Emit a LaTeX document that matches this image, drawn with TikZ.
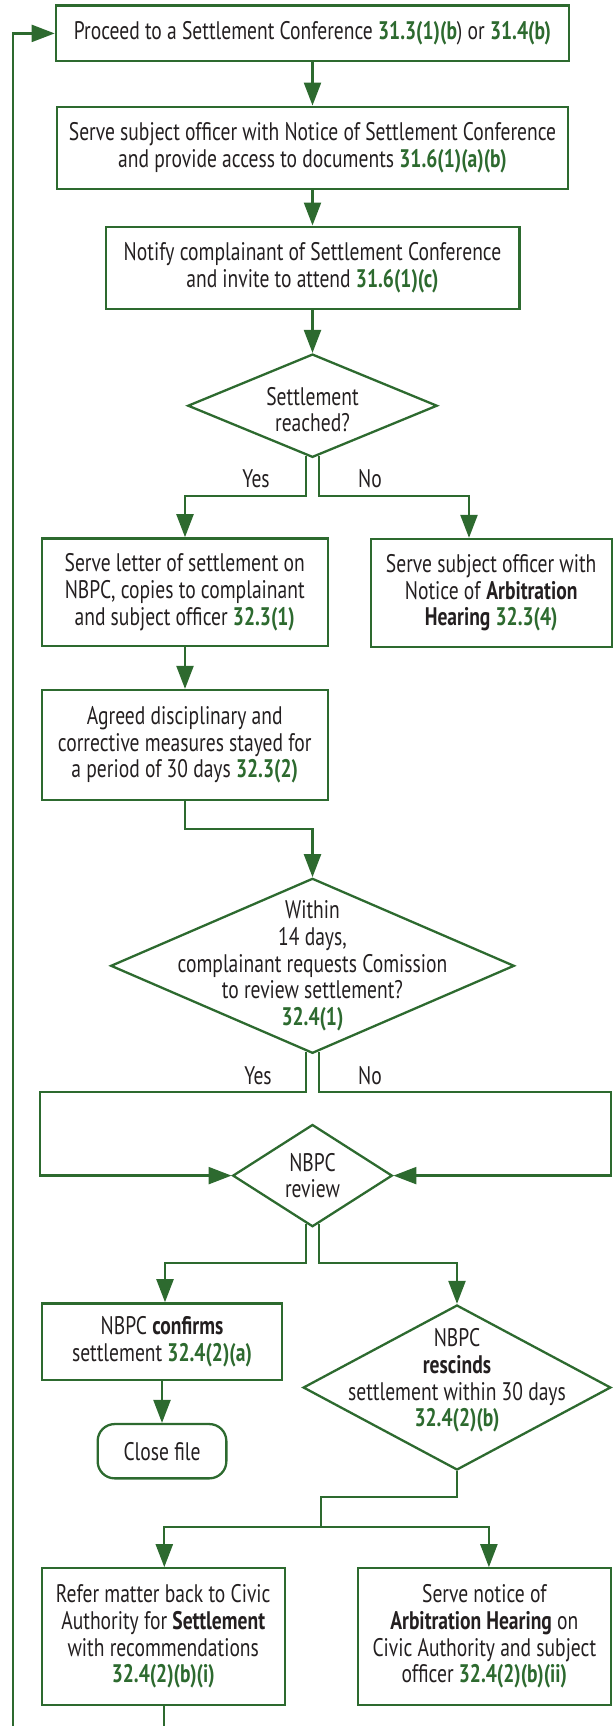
\documentclass[tikz,border=0pt]{standalone}
\usepackage{fontspec}
\setmainfont{PT Sans}[FakeStretch=0.77]
\usetikzlibrary{shapes.geometric,arrows.meta,calc}
\definecolor{G}{RGB}{45,106,47}
\definecolor{T}{RGB}{35,31,32}
\newcommand\fsz{\fontsize{12.7pt}{13.35pt}\selectfont}
\newcommand\rf[1]{\textbf{\textcolor{G}{#1}}}
\tikzset{
  base/.style={draw=G, line width=1.15pt, text=T, font=\fsz, align=center, inner sep=0pt},
  box/.style={base, rectangle},
  dia/.style={base, diamond},
  dtxt/.style={font=\fsz, text=T, align=center, inner sep=0pt},
  ln/.style={draw=G, line width=1.15pt},
  arr/.style={draw=G, line width=1.15pt, -{Triangle[length=11.5pt,width=8.5pt]}},
  yn/.style={font=\fsz, text=T, inner sep=0pt},
}
\begin{document}
\begin{tikzpicture}[x=0.5pt,y=-0.5pt]
\useasboundingbox (0,0) rectangle (613,1726);
% nodes
\node[box, minimum width=256.7pt, minimum height=27.9pt] (b1) at (312.5,33.4)
  {Proceed to a Settlement Conference \rf{31.3(1)(b}) or \rf{31.4(b)}};
\node[box, minimum width=255.2pt, minimum height=41.3pt] (b2) at (312.5,148)
  {Serve subject officer with Notice of Settlement Conference\\and provide access to documents \rf{31.6(1)(a)(b)}};
\node[box, minimum width=206.85pt, minimum height=41.15pt] (b3) at (312.5,267.8)
  {Notify complainant of Settlement Conference\\and invite to attend \rf{31.6(1)(c)}};
\node[dia, minimum width=124.75pt, minimum height=51.65pt,
  label={[dtxt, yshift=-2pt]center:{Settlement\\reached?}}] (d1) at (312.5,405.7) {};
\node[box, minimum width=142.95pt, minimum height=53.85pt] (b4) at (184.75,592.2)
  {Serve letter of settlement on\\NBPC, copies to complainant\\and subject officer \rf{32.3(1)}};
\node[box, minimum width=120.5pt, minimum height=54pt] (b5) at (491.2,593)
  {Serve subject officer with\\Notice of \textbf{Arbitration}\\\textbf{Hearing} \rf{32.3(4)}};
\node[box, minimum width=142.95pt, minimum height=55pt] (b6) at (184.75,745)
  {Agreed disciplinary and\\corrective measures stayed for\\a period of 30 days \rf{32.3(2)}};
\node[dia, minimum width=201.8pt, minimum height=87.5pt,
  label={[dtxt]center:{Within\\14 days,\\complainant requests Comission\\to review settlement?\\\rf{32.4(1)}}}] (d2) at (312.5,965.8) {};
\node[dia, minimum width=79.8pt, minimum height=51.1pt,
  label={[dtxt]center:{NBPC\\review}}] (rv) at (312.5,1175.6) {};
\node[box, minimum width=120.3pt, minimum height=38.35pt] (b7) at (162,1341.7)
  {NBPC \textbf{confirms}\\settlement \rf{32.4(2)(a)}};
\node[box, rounded corners=8.5pt, minimum width=64.35pt, minimum height=27.15pt] (cf) at (162,1451.2)
  {Close file};
\node[dia, minimum width=153.85pt, minimum height=82.5pt,
  label={[dtxt, yshift=3.5pt]center:{NBPC\\\textbf{rescinds}\\settlement within 30 days\\\rf{32.4(2)(b)}}}] (d4) at (457,1387.5) {};
\node[box, minimum width=121.45pt, minimum height=68.35pt] (b8) at (163.25,1636.65)
  {Refer matter back to Civic\\Authority for \textbf{Settlement}\\with recommendations\\\rf{32.4(2)(b)(i)}};
\node[box, minimum width=126.55pt, minimum height=68.35pt] (b9) at (484.35,1636.65)
  {Serve notice of\\\textbf{Arbitration Hearing} on\\Civic Authority and subject\\officer \rf{32.4(2)(b)(ii)}};
% labels
\node[yn] (y1) at (256,479) {Yes};
\node[yn] (n1) at (370,479) {No};
\node[yn] (y2) at (258,1075.7) {Yes};
\node[yn] (n2) at (370,1075.7) {No};
% coordinates
\coordinate (c5) at (469,0);
\coordinate (c4) at (185,0);
\coordinate (h1) at (0,495.7);
\coordinate (h2) at (0,829);
\coordinate (h3) at (0,1091.7);
\coordinate (xl) at (40.3,0);
\coordinate (xr) at (610.9,0);
\coordinate (h4) at (0,1262.7);
\coordinate (c7) at (165,0);
\coordinate (h5) at (0,1497.3);
\coordinate (j) at (320.7,1527);
\coordinate (c8) at (164.3,0);
\coordinate (c9) at (488.9,0);
\coordinate (lb) at (12.7,1726);
\coordinate (le) at (164.3,1726);
% connectors
\draw[arr] (b1) -- (b2);
\draw[arr] (b2) -- (b3);
\draw[arr] (b3) -- (d1);
\draw[arr] ($(d1.south)+(-6.3,-2.6)$) |- (h1 -| c4) -- (b4.north -| c4);
\draw[arr] ($(d1.south)+(6.3,-2.6)$) |- (h1 -| c5) -- (b5.north -| c5);
\draw[arr] (b4.south -| c4) -- (b6.north -| c4);
\draw[arr] (b6.south -| c4) |- (h2 -| d2) -- (d2);
\draw[arr] ($(d2.south)+(-6.3,-2.7)$) |- (h3 -| xl) |- (rv);
\draw[arr] ($(d2.south)+(6.3,-2.7)$) |- (h3 -| xr) |- (rv);
\draw[arr] ($(rv.south)+(-6.5,-4.2)$) |- (h4 -| c7) -- (b7.north -| c7);
\draw[arr] ($(rv.south)+(6.5,-4.2)$) |- (h4 -| d4) -- (d4);
\draw[arr] (b7) -- (cf);
\draw[ln] (d4.south) |- (h5 -| j) -- (j);
\draw[arr] (j) -| (b8.north -| c8);
\draw[arr] (j) -| (b9.north -| c9);
\draw[ln] (b8.south -| c8) -- (le);
\draw[arr] (lb) |- (b1);
\end{tikzpicture}
\end{document}
